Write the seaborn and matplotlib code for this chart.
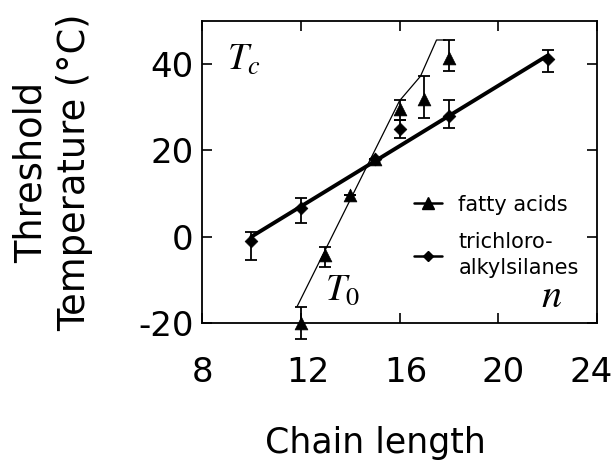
import matplotlib
matplotlib.use("Agg")
import matplotlib.pyplot as plt
import matplotlib.transforms as mtransforms
from matplotlib.lines import Line2D
import seaborn as sns
import pandas as pd

# ---- data ----
fatty_n = [12, 13, 14, 15, 16, 17, 18]
fatty_T = [-20.1, -4.3, 9.6, 18.0, 29.5, 32.0, 41.5]
fatty_err_lo = [3.5, 2.7, 0.0, 0.0, 2.5, 4.4, 3.0]
fatty_err_hi = [3.9, 2.0, 0.0, 0.0, 2.3, 5.2, 4.1]

silane_n = [10, 12, 15, 16, 18, 22]
silane_T = [-1.0, 6.6, 18.0, 25.0, 28.0, 41.3]
silane_err_lo = [4.4, 3.5, 0.0, 2.2, 2.9, 3.1]
silane_err_hi = [2.2, 2.3, 0.0, 2.0, 3.7, 1.9]

fatty_fit_n = [11.85, 16.0, 16.85, 17.5, 17.85]
fatty_fit_T = [-16.2, 31.5, 37.2, 45.6, 45.6]
silane_fit_n = [10.0, 22.0]
silane_fit_T = [0.0, 42.0]

x_ticks = [8, 12, 16, 20, 24]
y_ticks = [-20, 0, 20, 40]
legend_labels = ["fatty acids", "trichloro-\nalkylsilanes"]

sns.set_style("ticks")
plt.rcParams["font.family"] = ["DejaVu Sans"]
plt.rcParams["axes.unicode_minus"] = False
plt.rcParams["mathtext.fontset"] = "stix"
for key in ["text.color", "axes.labelcolor", "xtick.color", "ytick.color",
            "axes.edgecolor"]:
    plt.rcParams[key] = "black"

fig = plt.figure(figsize=(6.16, 4.62), dpi=100)
ax = fig.add_axes([202 / 616, 1 - 323 / 462, 395 / 616, 302 / 462])

df_fit_f = pd.DataFrame({"n": fatty_fit_n, "T": fatty_fit_T})
df_fit_s = pd.DataFrame({"n": silane_fit_n, "T": silane_fit_T})
df_f = pd.DataFrame({"n": fatty_n, "T": fatty_T})
df_s = pd.DataFrame({"n": silane_n, "T": silane_T})

sns.lineplot(data=df_fit_f, x="n", y="T", sort=False, estimator=None,
             color="black", linewidth=0.9, ax=ax)
sns.lineplot(data=df_fit_s, x="n", y="T", sort=False, estimator=None,
             color="black", linewidth=2.8, ax=ax)

ax.errorbar(fatty_n, fatty_T, yerr=[fatty_err_lo, fatty_err_hi], fmt="none",
            ecolor="black", elinewidth=1.3, capsize=4.3, capthick=1.3, clip_on=False)
ax.errorbar(silane_n, silane_T, yerr=[silane_err_lo, silane_err_hi], fmt="none",
            ecolor="black", elinewidth=1.3, capsize=4.3, capthick=1.3, clip_on=False)

sns.scatterplot(data=df_f, x="n", y="T", marker="^", s=85, color="black",
                edgecolor="black", linewidth=0.5, ax=ax, clip_on=False, zorder=5)
sns.scatterplot(data=df_s, x="n", y="T", marker="D", s=42, color="black",
                edgecolor="black", linewidth=0.5, ax=ax, clip_on=False, zorder=5)

ax.set_xlim(8, 24)
ax.set_ylim(-20, 50)
ax.set_xticks(x_ticks)
ax.set_yticks(y_ticks)
ax.tick_params(direction="in", length=7, width=1.2, top=True, right=True,
               labelsize=24.5, colors="black")
ax.tick_params(axis="x", pad=24)
ax.tick_params(axis="y", pad=6)
for s in ax.spines.values():
    s.set_linewidth(1.3)
    s.set_color("black")

# small horizontal nudges of the x tick labels, as in the reference scan
x_label_shift_px = [1, 7, 6, 5, -6]
for lab, dx in zip(ax.get_xticklabels(), x_label_shift_px):
    lab.set_transform(lab.get_transform() +
                      mtransforms.ScaledTranslation(dx / 100, 0, fig.dpi_scale_trans))

ax.set_xlabel("Chain length", fontsize=25)
ax.set_ylabel("Threshold\nTemperature (\u00b0C)", fontsize=26.5, linespacing=1.22)
ax.xaxis.set_label_coords(0.44, -0.34)
ax.yaxis.set_label_coords(-0.275, 0.5)

ax.text(9.0, 38.7, "$T_c$", fontsize=27, ha="left", va="baseline")
ax.text(12.98, -14.7, "$T_0$", fontsize=27, ha="left", va="baseline")
ax.text(21.75, -16.2, "$n$", fontsize=29, ha="left", va="baseline")

handles = [
    Line2D([], [], color="black", linewidth=1.8, marker="^", markersize=8.5),
    Line2D([], [], color="black", linewidth=1.8, marker="D", markersize=5),
]
leg = ax.legend(handles, legend_labels, loc="upper left",
                bbox_to_anchor=(0.537, 0.425), frameon=False, fontsize=15,
                handlelength=1.35, handletextpad=0.78, borderpad=0,
                borderaxespad=0, labelspacing=0.85)
for t in leg.get_texts():
    t.set_linespacing(1.35)

fig.savefig("out.png", dpi=100)
